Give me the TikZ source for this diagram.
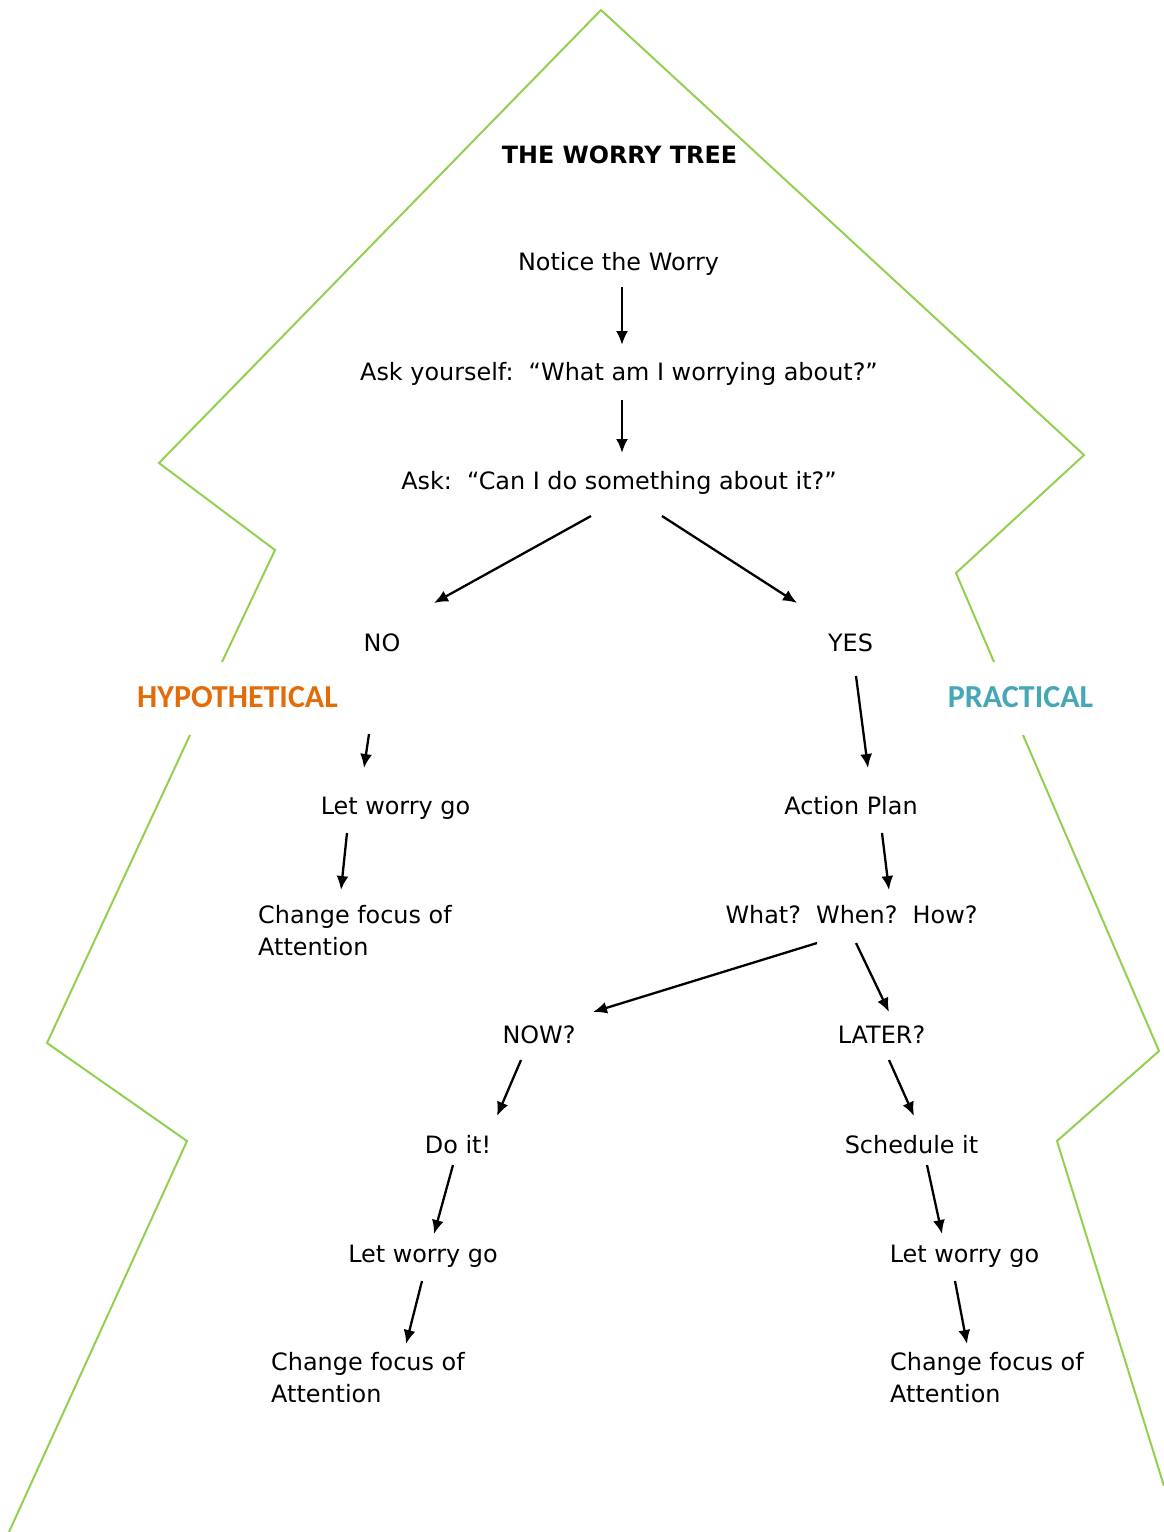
\documentclass[tikz,border=0pt]{standalone}
\usepackage{fontspec}
\setmainfont{DejaVu Sans}
\newfontfamily\calib{Carlito}
\usetikzlibrary{arrows.meta}
\definecolor{treegreen}{HTML}{92D050}
\definecolor{hypo}{HTML}{E36C0A}
\definecolor{prac}{HTML}{45A8B4}
\tikzset{
  txt/.style={inner sep=0pt, anchor=base, font=\fontsize{23.9}{32}\selectfont},
  blk/.style={inner sep=0pt, anchor=north west, align=left, font=\fontsize{23.9}{32}\selectfont},
  lbl/.style={inner sep=0pt, anchor=base, font=\calib\bfseries\fontsize{32}{36}\selectfont},
  arr/.style={-{Latex[length=14pt,width=12pt]}, line width=2.3pt},
  outline/.style={draw=treegreen, line width=2pt, line join=miter}
}
\begin{document}
\begin{tikzpicture}[x=1pt,y=1pt]
\useasboundingbox (0,0) rectangle (1164,-1532);
% tree outline
\draw[outline] (222,-662) -- (275,-550) -- (159,-463) -- (601,-10) -- (1084,-455) -- (956,-573) -- (994,-662);
\draw[outline] (190,-735) -- (47,-1043) -- (187,-1141) -- (9,-1532);
\draw[outline] (1023,-735) -- (1159,-1051) -- (1057,-1141) -- (1164,-1486);
% texts
\node[txt, font=\bfseries\fontsize{23.8}{32}\selectfont] (title) at (619.5,-163) {THE WORRY TREE};
\node[txt] (notice) at (618.5,-270) {Notice the Worry};
\node[txt] (ask1) at (619,-380) {Ask yourself:\ \ “What am I worrying about?”};
\node[txt] (ask2) at (619,-489) {Ask:\ \ “Can I do something about it?”};
\node[txt] (no) at (382,-651) {NO};
\node[txt] (yes) at (850.5,-651) {YES};
\node[lbl, text=hypo] (hyp) at (237.5,-707) {HYPOTHETICAL};
\node[lbl, text=prac] (pra) at (1020.5,-707) {PRACTICAL};
\node[txt] (lwg1) at (395.5,-814) {Let worry go};
\node[txt] (ap) at (851,-814) {Action Plan};
\node[blk] (cf1) at (258,-905) {Change focus of\\Attention};
\node[txt] (www) at (851.5,-923) {What?\ \ When?\ \ How?};
\node[txt] (now) at (539,-1043) {NOW?};
\node[txt] (later) at (881.5,-1043) {LATER?};
\node[txt] (doit) at (458,-1153) {Do it!};
\node[txt] (sched) at (911.5,-1153) {Schedule it};
\node[txt] (lwg2) at (423,-1262) {Let worry go};
\node[txt] (lwg3) at (964.5,-1262) {Let worry go};
\node[blk] (cf2) at (271,-1352) {Change focus of\\Attention};
\node[blk] (cf3) at (890,-1352) {Change focus of\\Attention};
% arrows
\draw[arr] ([shift={(3.5,-17)}]notice.base) -- ([shift={(3,35)}]ask1.base);
\draw[arr] ([shift={(3,-20)}]ask1.base) -- ([shift={(3,36)}]ask2.base);
\draw[arr] ([shift={(-28,-27)}]ask2.base) -- ([shift={(52,48)}]no.base);
\draw[arr] ([shift={(43,-27)}]ask2.base) -- ([shift={(-53.5,48)}]yes.base);
\draw[arr] ([shift={(-13,-83)}]no.base) -- ([shift={(-31.5,46)}]lwg1.base);
\draw[arr] ([shift={(5.5,-25)}]yes.base) -- ([shift={(17,46)}]ap.base);
\draw[arr] ([shift={(-48.5,-19)}]lwg1.base) -- ([shift={(83,15)}]cf1.north west);
\draw[arr] ([shift={(31,-19)}]ap.base) -- ([shift={(37.5,33)}]www.base);
\draw[arr] ([shift={(-34.5,-20)}]www.base) -- ([shift={(54,31)}]now.base);
\draw[arr] ([shift={(4.5,-20)}]www.base) -- ([shift={(7.5,31)}]later.base);
\draw[arr] ([shift={(-18,-17)}]now.base) -- ([shift={(39,37)}]doit.base);
\draw[arr] ([shift={(7.5,-17)}]later.base) -- ([shift={(2.5,37)}]sched.base);
\draw[arr] ([shift={(-5,-12)}]doit.base) -- ([shift={(11,28)}]lwg2.base);
\draw[arr] ([shift={(15.5,-12)}]sched.base) -- ([shift={(-22.5,28)}]lwg3.base);
\draw[arr] ([shift={(-1,-19)}]lwg2.base) -- ([shift={(135,8)}]cf2.north west);
\draw[arr] ([shift={(-9.5,-19)}]lwg3.base) -- ([shift={(77,8)}]cf3.north west);
\end{tikzpicture}
\end{document}
